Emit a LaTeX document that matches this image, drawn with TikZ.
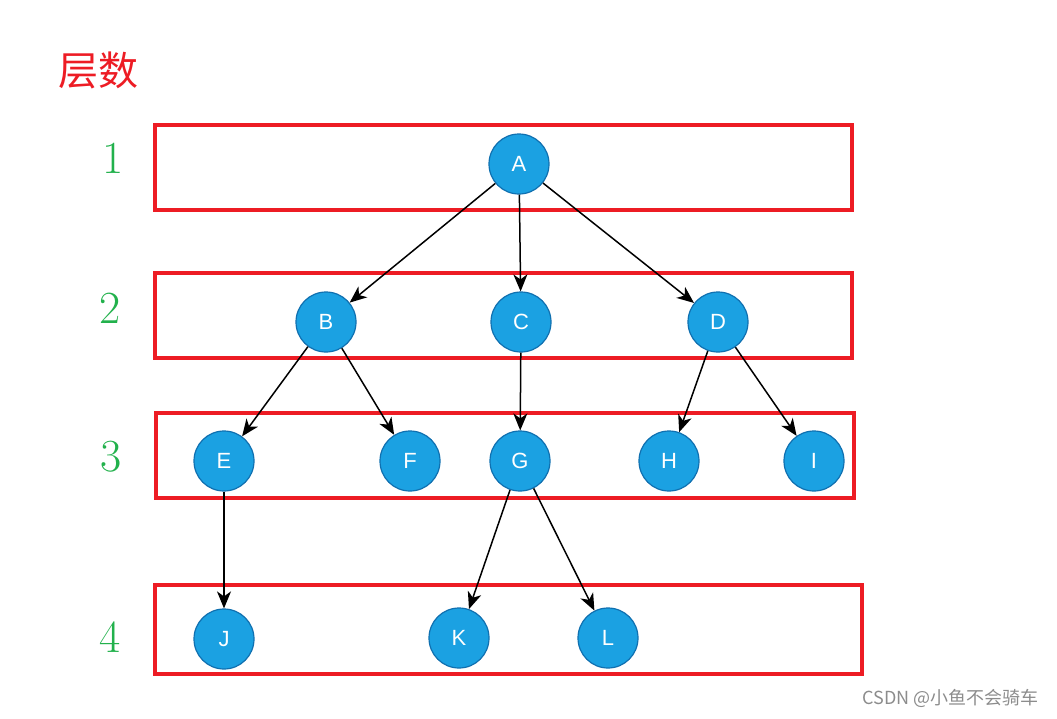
\documentclass[tikz,border=0pt]{standalone}
\usepackage{fontspec}
\setmainfont{Latin Modern Roman}
\newfontfamily\cjk{Noto Sans CJK SC}
\newfontfamily\lab{Liberation Sans}
\usetikzlibrary{arrows.meta}
\definecolor{nodeblue}{HTML}{1BA1E2}
\definecolor{nodeborder}{HTML}{1070B0}
\definecolor{boxred}{HTML}{ED1C24}
\definecolor{numgreen}{HTML}{22B14C}
\tikzset{
  tn/.style={circle, draw=nodeborder, line width=1.2pt, fill=nodeblue, minimum size=60pt, inner sep=0pt, text=white, font=\lab\fontsize{22}{22}\selectfont},
  lvl/.style={draw=boxred, line width=4pt},
  num/.style={text=numgreen, font=\fontsize{46}{46}\selectfont},
  edge/.style={-{Stealth[length=17pt,width=14pt,inset=5pt]}, line width=1.5pt, black}
}
\begin{document}
\begin{tikzpicture}[x=1pt,y=-1pt]
\useasboundingbox (0,0) rectangle (1057,718);
\node[text=boxred, font=\cjk\fontsize{40}{40}\selectfont] (title) at (98,70) {层数};
\draw[lvl] (155,125) rectangle (852,210);
\draw[lvl] (155,273) rectangle (852,358);
\draw[lvl] (156,413) rectangle (854,498);
\draw[lvl] (155,585) rectangle (862,674);
\node[num] (n1) at (113,158) {1};
\node[num] (n2) at (110,308) {2};
\node[num] (n3) at (111,457) {3};
\node[num] (n4) at (110,637) {4};
\node[tn] (A) at (519,164) {A};
\node[tn] (B) at (326,322) {B};
\node[tn] (C) at (521,322) {C};
\node[tn] (D) at (718,322) {D};
\node[tn] (E) at (224,461) {E};
\node[tn] (F) at (410,461) {F};
\node[tn] (G) at (520,461) {G};
\node[tn] (H) at (669,461) {H};
\node[tn] (I) at (814,461) {I};
\node[tn] (J) at (224,639) {J};
\node[tn] (K) at (459,638) {K};
\node[tn] (L) at (608,638) {L};
\draw[edge] (A) -- (B);
\draw[edge] (A) -- (C);
\draw[edge] (A) -- (D);
\draw[edge] (B) -- (E);
\draw[edge] (B) -- (F);
\draw[edge] (C) -- (G);
\draw[edge] (D) -- (H);
\draw[edge] (D) -- (I);
\draw[edge] (E) -- (J);
\draw[edge] (G) -- (K);
\draw[edge] (G) -- (L);
\node[text=black!45, font=\cjk\fontsize{18}{18}\selectfont, anchor=east] (wm) at (1042,698) {CSDN @小鱼不会骑车};
\end{tikzpicture}
\end{document}
